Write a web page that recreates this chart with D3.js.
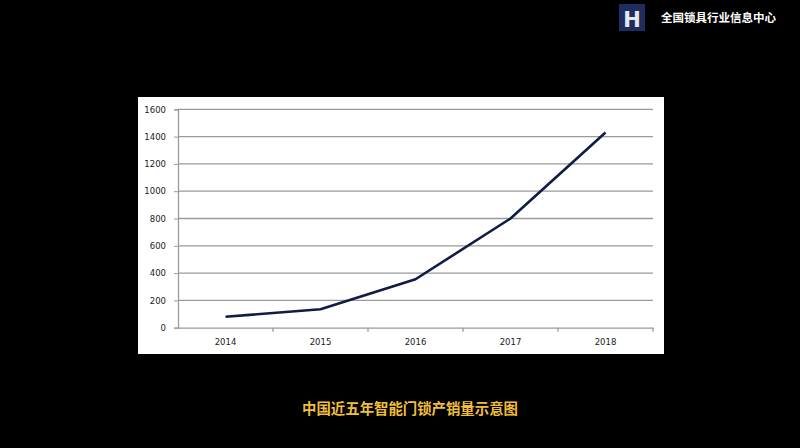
<!DOCTYPE html>
<html><head><meta charset="utf-8">
<script src="https://cdn.jsdelivr.net/npm/d3@7"></script>
<style>html,body{margin:0;padding:0;background:#000;}svg{display:block;}</style>
</head><body>
<svg id="c" width="800" height="448"></svg>
<script>
const years = ["2014","2015","2016","2017","2018"];
const values = [80, 135, 355, 800, 1430];
const yTicks = [0,200,400,600,800,1000,1200,1400,1600];
const title = "中国近五年智能门锁产销量示意图";
const brand = "全国锁具行业信息中心";

(function(){
const svg = d3.select("#c");
svg.append("rect").attr("width",800).attr("height",448).attr("fill","#000");

// logo
const lg = svg.append("g");
lg.append("rect").attr("x",619).attr("y",4).attr("width",26).attr("height",27).attr("fill","#1e2c5e");
lg.append("text").attr("x",632).attr("y",26.5).attr("text-anchor","middle")
  .attr("font-family","DejaVu Sans").attr("font-weight","bold").attr("font-size",21)
  .attr("fill","#e4e8f0").text("H");
svg.append("text").attr("x",661).attr("y",22).attr("fill","#fff")
  .attr("font-family","Noto Sans CJK SC").attr("font-weight","bold").attr("font-size",11.5)
  .text(brand);

// panel
svg.append("rect").attr("x",138).attr("y",97).attr("width",526).attr("height",257).attr("fill","#fff");

const pl=178, pr=653, pt=109.3, pb=327.7;
const x = d3.scaleBand().domain(years).range([pl,pr]);
const y = d3.scaleLinear().domain([0,1600]).range([pb,pt]);

// gridlines
svg.append("g").selectAll("line").data(yTicks.filter(d=>d>0)).join("line")
  .attr("x1",pl).attr("x2",pr).attr("y1",d=>y(d)).attr("y2",d=>y(d))
  .attr("stroke","#9a9a9a").attr("stroke-width",1.3);

const yAxis = svg.append("g").attr("transform",`translate(${pl},0)`)
  .call(d3.axisLeft(y).tickValues(yTicks).tickSize(4).tickPadding(8).tickFormat(d3.format("d")));
yAxis.select(".domain").attr("stroke","#9a9a9a").attr("stroke-width",1.3);
yAxis.selectAll(".tick line").attr("stroke","#9a9a9a");
yAxis.selectAll("text").attr("font-family","DejaVu Sans").attr("font-size",8.5).attr("fill","#1a1a1a");

const xAxis = svg.append("g").attr("transform",`translate(0,${pb})`)
  .call(d3.axisBottom(x).tickSize(0).tickPadding(11));
xAxis.select(".domain").attr("stroke","#9a9a9a").attr("stroke-width",1.3);
xAxis.selectAll("text").attr("font-family","DejaVu Sans").attr("font-size",8.5).attr("fill","#1a1a1a");
// category boundary ticks
svg.append("g").selectAll("line").data(years).join("line")
  .attr("x1",d=>x(d)+x.bandwidth()).attr("x2",d=>x(d)+x.bandwidth())
  .attr("y1",pb).attr("y2",pb+4).attr("stroke","#9a9a9a").attr("stroke-width",1.3);

// line
const line = d3.line().x((d,i)=>x(years[i])+x.bandwidth()/2).y(d=>y(d));
svg.append("path").datum(values).attr("d",line).attr("fill","none")
  .attr("stroke","#0f1c44").attr("stroke-width",2.6).attr("stroke-linejoin","round");

// title
svg.append("text").attr("x",410).attr("y",414).attr("text-anchor","middle")
  .attr("font-family","Noto Sans CJK SC").attr("font-weight","bold").attr("font-size",14.4)
  .attr("fill","#f0bf38").text(title);
})();
</script>
</body></html>
